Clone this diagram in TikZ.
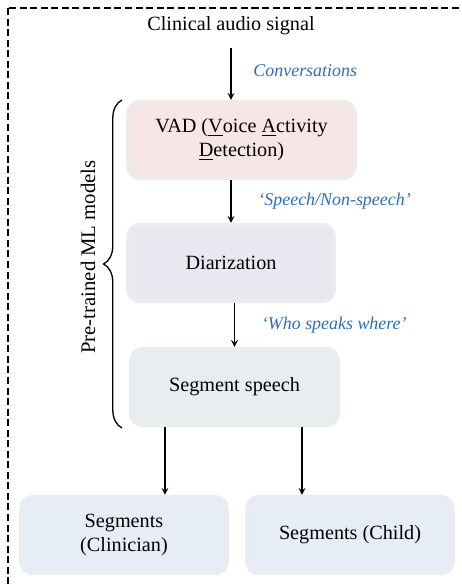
\documentclass[tikz,border=0pt]{standalone}
\usepackage{fontspec}
\setmainfont{Liberation Serif}
\usepackage{tikz}
\usetikzlibrary{arrows,calc,positioning,decorations.pathreplacing}

\definecolor{vadfill}{RGB}{247,230,230}
\definecolor{diarfill}{RGB}{234,231,241}
\definecolor{segfill}{RGB}{232,237,239}
\definecolor{outfill}{RGB}{230,237,247}
\definecolor{boxline}{RGB}{236,236,236}
\definecolor{lblblue}{RGB}{46,110,181}

\tikzset{
	box/.style={rectangle, rounded corners=7pt, draw=boxline, line width=1.7pt, align=center, minimum height=1.55cm, font=\fontsize{11.5}{13.5}\selectfont},
	lbl/.style={text=lblblue, font=\fontsize{10.2}{12}\selectfont\itshape},
}

\begin{document}
\begin{tikzpicture}[x=0.02cm, y=-0.02cm, >=stealth]
	\useasboundingbox (0,0) rectangle (462,588);
	\draw[dash pattern=on 4pt off 2pt, line width=0.6pt] (8,8) rectangle (480,610);

	\node (signal) at (231,26) [font=\fontsize{11.5}{13.5}\selectfont] {Clinical audio signal};
	\node[box, fill=vadfill, minimum width=4.56cm] (vad) at (241.5,140) {VAD (\underline{V}oice \underline{A}ctivity\\\underline{D}etection)};
	\node[box, fill=diarfill, minimum width=4.14cm] (diar) at (231,263) {Diarization};
	\node[box, fill=segfill, minimum width=4.16cm] (segsp) at (234.5,387) {Segment speech};
	\node[box, fill=outfill, minimum width=4.14cm] (clin) at (124,535) {Segments\\(Clinician)};
	\node[box, fill=outfill, minimum width=4.14cm] (child) at (350,535) {Segments (Child)};

	\coordinate (sc) at ($(segsp.south west)!0.17!(segsp.south east)$);
	\coordinate (cc) at ($(segsp.south west)!0.82!(segsp.south east)$);

	\path[->, line width=0.7pt]
	(signal.south) edge [shorten <=4pt] node [lbl, right=0.32cm] {Conversations} (signal.south |- vad.north)
	(diar.north |- vad.south) edge node [lbl, right=0.42cm] {`Speech/Non-speech'} (diar.north)
	(segsp.north |- diar.south) edge node [lbl, right=0.42cm] {`Who speaks where'} (segsp.north)
	(sc) edge (sc |- clin.north)
	(cc) edge (cc |- child.north)
	;

	% brace round the three model stages
	\coordinate (bt) at (122,100);
	\coordinate (bb) at (122,428);
	\draw[decorate, decoration={brace, amplitude=10.5pt}, line width=0.75pt] (bb) -- (bt);
	\node[rotate=90, font=\fontsize{11.8}{14}\selectfont] (models) at (88,257) {Pre-trained ML models};
\end{tikzpicture}
\end{document}
